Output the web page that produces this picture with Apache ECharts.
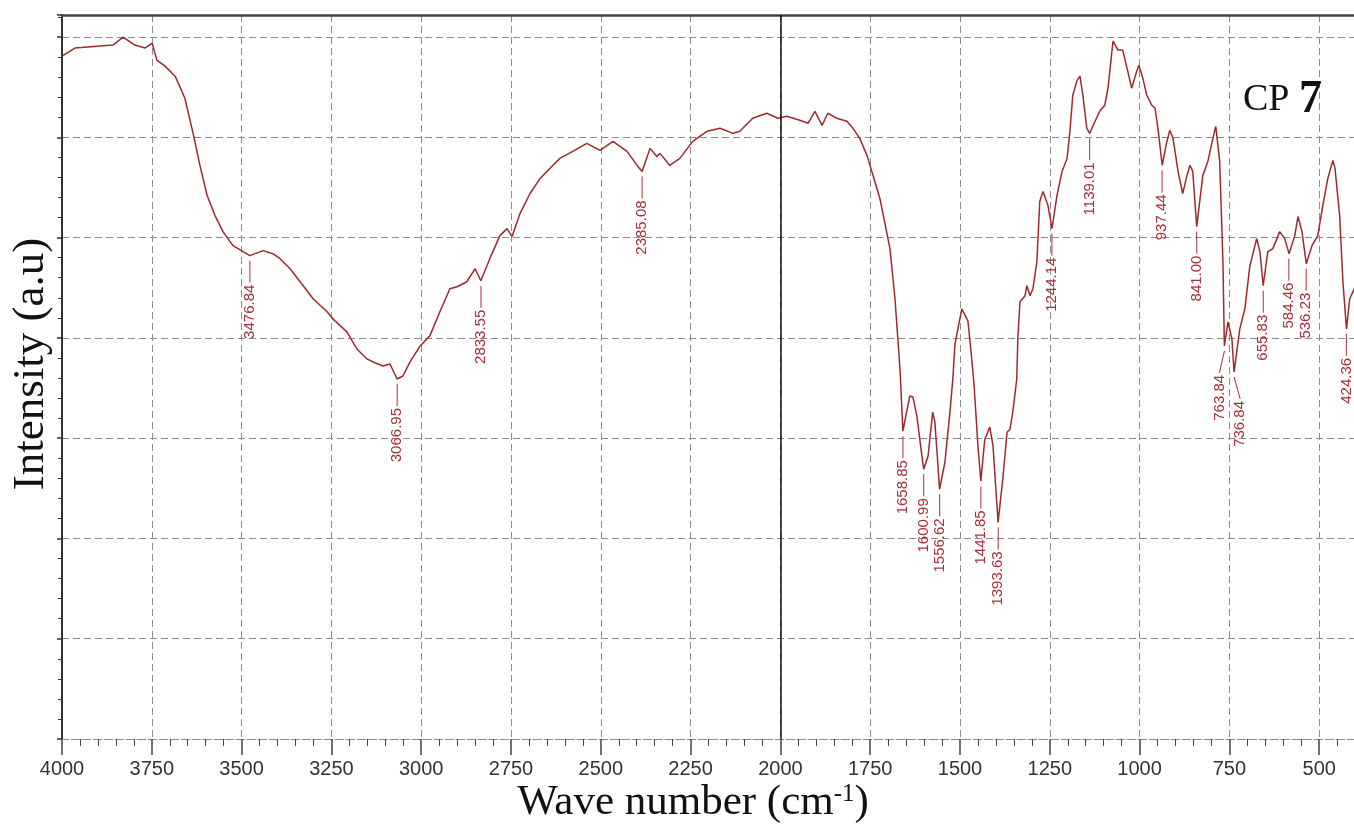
<!DOCTYPE html>
<html>
<head>
<meta charset="utf-8">
<script src="https://cdn.jsdelivr.net/npm/echarts/dist/echarts.min.js"></script>
<style>
html,body{margin:0;padding:0;background:#fff;}
#chart{width:1354px;height:827px;}
</style>
</head>
<body>
<div id="chart"></div>
<script>
// ---- data ----
const wavenumbers = [
  4000,3964,3894,3858,3830,3797,3769,3749,3736,3713,
  3685,3658,3635,3616,3596,3574,3552,3524,3496,3477,
  3440,3413,3393,3365,3337,3301,3262,3246,3207,3179,
  3151,3134,3106,3087,3067,3051,3031,3003,2976,2948,
  2920,2900,2873,2850,2834,2809,2781,2761,2747,2725,
  2697,2669,2642,2614,2578,2539,2502,2466,2427,2399,
  2385,2363,2344,2335,2308,2280,2244,2205,2168,2132,
  2113,2077,2038,2007,1982,1946,1923,1904,1884,1868,
  1843,1815,1798,1779,1759,1742,1723,1695,1681,1667,
  1659,1640,1631,1620,1606,1601,1589,1576,1570,1562,
  1557,1542,1528,1520,1514,1495,1478,1470,1461,1450,
  1442,1431,1417,1408,1394,1381,1369,1361,1353,1342,
  1339,1333,1319,1314,1305,1297,1286,1278,1269,1255,
  1244,1230,1216,1202,1194,1186,1175,1166,1158,1147,
  1139,1124,1111,1097,1088,1074,1060,1047,1033,1022,
  1008,1002,991,980,966,957,949,937,924,916,
  907,893,880,868,860,852,841,824,810,796,
  788,777,768,764,754,743,737,721,707,693,
  674,665,656,643,629,610,596,584,568,559,
  548,536,520,504,490,476,462,456,443,434,
  424,415,400
];
const intensity = [
  681,689,691,692,700,692,689,694,677,671,
  661,639,604,572,542,522,506,492,486,482,
  487,484,479,469,456,439,426,419,406,389,
  379,376,372,374,359,362,376,392,402,426,
  449,451,456,469,457,479,502,509,501,524,
  544,559,569,579,586,594,587,596,586,572,
  566,589,581,584,572,579,596,606,609,604,
  606,619,624,619,621,617,614,626,612,624,
  619,616,609,599,582,562,539,489,439,369,
  307,342,341,322,282,269,282,326,316,276,
  249,276,326,359,394,429,417,389,354,292,
  257,299,311,292,216,259,306,309,326,359,
  399,436,442,452,442,449,476,536,546,532,
  509,542,566,579,606,642,656,661,642,609,
  604,616,626,632,649,696,687,687,666,649,
  666,672,659,642,632,629,609,572,596,607,
  599,566,544,562,572,566,511,562,576,599,
  611,576,476,392,416,399,366,409,429,472,
  499,486,452,486,489,506,499,484,502,521,
  506,474,492,502,532,559,577,569,522,456,
  409,439,451
];
const peakWavenumbers = [3476.84,3066.95,2833.55,2385.08,1658.85,1600.99,1556.62,1441.85,1393.63,1244.14,1139.01,937.44,841.00,763.84,736.84,655.83,584.46,536.23,424.36];
const peakIntensity   = [482,359,457,566,307,269,249,257,216,509,604,572,511,392,366,452,484,474,409];
const xTickInterval = 250;
const xMin = 250, xMax = 4000;
const yMin = 0, yMax = 722, yTickInterval = 100;
const markerWavenumber = 2000;

// ---- build ----
const spectrum = wavenumbers.map((w, i) => [w, intensity[i]]);
const peaks = peakWavenumbers.map((w, i) => [w, peakIntensity[i]]);
const labelShift = {'763.84': -5, '736.84': 6};
const RED = '#9e2a2e';
const LABEL_RED = '#a3303a';
const GRID_GRAY = '#8c8c8c';

const chart = echarts.init(document.getElementById('chart'), null, {renderer: 'canvas'});
chart.setOption({
  animation: false,
  backgroundColor: '#ffffff',
  grid: {left: 62, right: -55, top: 15, bottom: 88, containLabel: false, outerBoundsMode: 'none'},
  xAxis: [{
    type: 'value', min: xMin, max: xMax, interval: xTickInterval, inverse: true, position: 'bottom',
    axisLine: {show: true, onZero: false, lineStyle: {color: GRID_GRAY, type: [7, 4], width: 1}},
    axisTick: {show: true, length: 16, lineStyle: {color: '#444', width: 1.5}},
    minorTick: {show: true, splitNumber: 5, length: 7, lineStyle: {color: '#444', width: 1}},
    axisLabel: {fontSize: 20, fontFamily: 'Liberation Sans', color: '#333', margin: 20,
      formatter: function (v) { return String(v); }},
    splitLine: {show: true, lineStyle: {color: GRID_GRAY, type: [7, 4], width: 1}}
  }, {
    type: 'value', min: xMin, max: xMax, inverse: true, position: 'top',
    axisLine: {show: true, onZero: false, lineStyle: {color: '#444', width: 2.5}},
    axisTick: {show: false}, axisLabel: {show: false}, splitLine: {show: false}
  }],
  yAxis: {
    type: 'value', min: yMin, max: yMax, interval: yTickInterval,
    axisLine: {show: true, onZero: false, lineStyle: {color: '#333', width: 2}},
    axisTick: {show: true, length: 5, lineStyle: {color: '#333', width: 1.5}},
    minorTick: {show: true, splitNumber: 5, length: 4, lineStyle: {color: '#333', width: 1}},
    axisLabel: {show: false},
    splitLine: {show: true, lineStyle: {color: GRID_GRAY, type: [7, 4], width: 1}}
  },
  series: [{
    type: 'line',
    xAxisIndex: 0,
    data: spectrum,
    showSymbol: false,
    symbol: 'none',
    smooth: false,
    lineStyle: {color: RED, width: 1.5},
    z: 3,
    markLine: {
      silent: true, symbol: 'none', label: {show: false},
      lineStyle: {color: '#111', type: 'solid', width: 1.5},
      data: [{xAxis: markerWavenumber}]
    }
  }, {
    type: 'custom',
    xAxisIndex: 0,
    data: peaks,
    z: 4,
    renderItem: function (params, api) {
      const w = api.value(0), v = api.value(1);
      const p = api.coord([w, v]);
      const txt = peakWavenumbers[params.dataIndex].toFixed(2);
      const dx = labelShift[txt] || 0;
      return {
        type: 'group',
        children: [{
          type: 'line',
          shape: {x1: p[0], y1: p[1] + 5, x2: p[0] + dx, y2: p[1] + 27},
          style: {stroke: LABEL_RED, lineWidth: 1}
        }, {
          type: 'text',
          x: p[0] + dx, y: p[1] + 29,
          rotation: Math.PI / 2,
          style: {
            text: txt, fill: LABEL_RED,
            font: '15px "Liberation Sans"',
            align: 'right', verticalAlign: 'middle'
          }
        }]
      };
    }
  }],
  graphic: [{
    type: 'text', x: 693, y: 803, z: 10,
    style: {
      text: '{a|Wave number (cm}{s|-1}{a|)}',
      align: 'center', verticalAlign: 'middle',
      rich: {
        a: {fontSize: 43, fontFamily: 'Liberation Serif', fill: '#111'},
        s: {fontSize: 25, fontFamily: 'Liberation Serif', fill: '#111', verticalAlign: 'top'}
      }
    }
  }, {
    type: 'text', x: 31, y: 364, rotation: Math.PI / 2, z: 10,
    style: {
      text: 'Intensity (a.u)',
      font: '45px "Liberation Serif"', fill: '#111',
      align: 'center', verticalAlign: 'middle'
    }
  }, {
    type: 'text', x: 1243, y: 100, z: 10,
    style: {
      text: '{a|CP }{b|7}',
      align: 'left', verticalAlign: 'middle',
      rich: {
        a: {fontSize: 38, fontFamily: 'Liberation Serif', fill: '#111'},
        b: {fontSize: 46, fontWeight: 'bold', fontFamily: 'Liberation Serif', fill: '#111'}
      }
    }
  }]
});
</script>
</body>
</html>
